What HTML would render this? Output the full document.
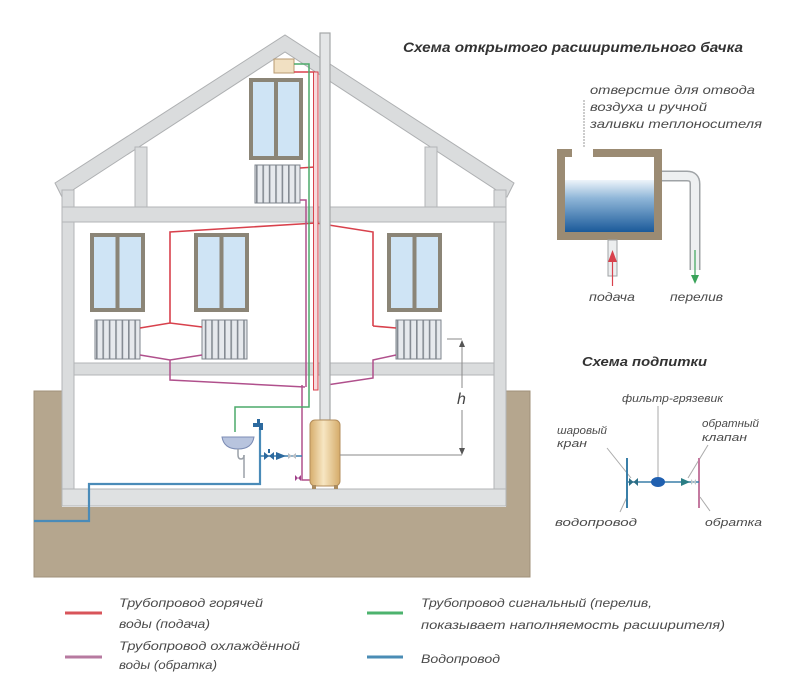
<!DOCTYPE html>
<html><head><meta charset="utf-8"><style>
html,body{margin:0;padding:0;background:#fff;width:800px;height:696px;overflow:hidden}
svg{display:block}
text{font-family:"Liberation Sans","DejaVu Sans",sans-serif;font-style:italic;fill:#4a4a4a}
.t{font-weight:bold;fill:#333}
</style></head><body>
<svg width="800" height="696" viewBox="0 0 800 696" xmlns="http://www.w3.org/2000/svg">
<defs>
<linearGradient id="boil" x1="0" x2="1" y1="0" y2="0"><stop offset="0" stop-color="#d6ad6c"/><stop offset=".45" stop-color="#f7e6c2"/><stop offset="1" stop-color="#d5ab69"/></linearGradient>
<linearGradient id="water" x1="0" x2="0" y1="0" y2="1"><stop offset="0" stop-color="#eef4fa"/><stop offset=".35" stop-color="#8fb6d8"/><stop offset="1" stop-color="#1b5a9a"/></linearGradient>
<pattern id="rad" width="6.4" height="10" patternUnits="userSpaceOnUse"><rect width="6.4" height="10" fill="#e6e9ed"/><rect x="0" width="1.6" height="10" fill="#858b93"/></pattern>
</defs>
<rect width="800" height="696" fill="#fff"/>

<!-- ground -->
<rect x="34" y="391" width="496" height="186" fill="#b5a68e" stroke="#a09079"/>
<rect x="62" y="385" width="444" height="122" fill="#fff"/>

<!-- roof -->
<polygon points="55,183 285,35 514,183 507,197 285,52 62,197" fill="#dadcdd" stroke="#aeb0b2" stroke-width="1"/>
<!-- walls -->
<rect x="62" y="190" width="12" height="316" fill="#dadcdd" stroke="#b3b5b7"/>
<rect x="494" y="190" width="12" height="316" fill="#dadcdd" stroke="#b3b5b7"/>
<!-- posts -->
<rect x="135" y="147" width="12" height="60" fill="#dadcdd" stroke="#b3b5b7"/>
<rect x="425" y="147" width="12" height="60" fill="#dadcdd" stroke="#b3b5b7"/>
<!-- beams -->
<rect x="62" y="207" width="444" height="15" fill="#dadcdd" stroke="#b3b5b7"/>
<rect x="74" y="363" width="420" height="12" fill="#dadcdd" stroke="#b3b5b7"/>
<rect x="62" y="489" width="444" height="17" fill="#dfe1e2" stroke="#b3b5b7"/>

<!-- windows -->
<g fill="#8b8577">
<rect x="249" y="78" width="54" height="82"/>
<rect x="90" y="233" width="55" height="79"/>
<rect x="194" y="233" width="55" height="79"/>
<rect x="387" y="233" width="55" height="79"/>
</g>
<g fill="#cfe4f5">
<rect x="253" y="82" width="21" height="74"/><rect x="278" y="82" width="21" height="74"/>
<rect x="94" y="237" width="21.5" height="71"/><rect x="119.5" y="237" width="21.5" height="71"/>
<rect x="198" y="237" width="21.5" height="71"/><rect x="223.5" y="237" width="21.5" height="71"/>
<rect x="391" y="237" width="21.5" height="71"/><rect x="416.5" y="237" width="21.5" height="71"/>
</g>

<!-- radiators -->
<g fill="url(#rad)" stroke="#7e848c" stroke-width="1">
<rect x="255" y="165" width="45" height="38"/>
<rect x="95" y="320" width="45" height="39"/>
<rect x="202" y="320" width="45" height="39"/>
<rect x="396" y="320" width="45" height="39"/>
</g>

<!-- attic tank -->
<rect x="274" y="59" width="20" height="14" fill="#f1e0c2" stroke="#b89a70"/>

<!-- supply red pipes -->
<g fill="none" stroke="#d8414c" stroke-width="1.6">
<polyline points="170,323 170,232 316,223 373,232 373,326"/>
<polyline points="140,328 170,323 202,327"/>
<polyline points="373,326 396,328"/>
<polyline points="294,72 315,72"/>
<polyline points="300,168 315,167"/>
</g>
<rect x="313.5" y="72" width="4.5" height="318" fill="#f7dadd" stroke="#d8414c" stroke-width="1"/>

<!-- return purple -->
<g fill="none" stroke="#b0508c" stroke-width="1.5">
<polyline points="140,355 170,360 202,355"/>
<polyline points="170,360 170,380 305,387"/>
<polyline points="396,355 373,360 373,378 320,386"/>
<polyline points="300,200 306,200 306,387"/>
<polyline points="302,385 302,480 310,480"/>
</g>

<!-- green signal -->
<polyline points="294,64 309,64 309,407 235,407 235,432" fill="none" stroke="#4caa6a" stroke-width="1.5"/>

<!-- chimney -->
<rect x="320" y="33" width="10" height="387" fill="#e4e6e7" stroke="#a4a6a8" stroke-width="1.2"/>

<!-- boiler -->
<rect x="310" y="420" width="30" height="66" rx="5" fill="url(#boil)" stroke="#b38e5c"/>
<rect x="312" y="485" width="4" height="4" fill="#a98b60"/><rect x="334" y="485" width="4" height="4" fill="#a98b60"/>

<!-- water supply blue -->
<polyline points="260,428 260,484 89,484 89,521 34,521" fill="none" stroke="#4a8bb8" stroke-width="2.2"/>
<path d="M253,427 v-4 h4 v-4 h3 v4 h3 v7 h-4 v-3 h-2 v0 z" fill="#2d6a9f"/>
<line x1="260" y1="456" x2="302" y2="456" stroke="#3b7fae" stroke-width="1.5"/>
<polygon points="264,452 274,460 274,452 264,460" fill="#2d6a9f"/>
<rect x="268" y="449" width="2" height="4" fill="#2d6a9f"/>
<polygon points="276,452 286,456 276,460" fill="#2d6a9f"/>
<polygon points="288,453 296,459 296,453 288,459" fill="#b9bec4"/>
<polygon points="295,475 301,481 301,475 295,481" fill="#a0408a"/>

<!-- sink -->
<path d="M222,437 H254 Q252,449 238,449 Q224,449 222,437 Z" fill="#b8c4de" stroke="#7d8db5"/>
<path d="M238,449 v6 q0,4 3,4 q3,0 3,-4" fill="none" stroke="#9aa0a8" stroke-width="1.5"/>
<line x1="244" y1="455" x2="244" y2="478" stroke="#9aa0a8" stroke-width="1.5"/>

<!-- h dimension -->
<g stroke="#8a8a8a" stroke-width="1" fill="none">
<line x1="447" y1="339" x2="462" y2="339"/>
<line x1="462" y1="345" x2="462" y2="388"/>
<line x1="462" y1="410" x2="462" y2="449"/>
<line x1="340" y1="455" x2="462" y2="455"/>
</g>
<path d="M459,347 L462,340 L465,347 Z" fill="#555"/>
<path d="M459,448 L462,455 L465,448 Z" fill="#555"/>
<text x="457" y="404" font-size="16" style="font-style:italic;fill:#444">h</text>

<!-- expansion tank scheme -->
<text class="t" x="403" y="52" font-size="14" textLength="340" lengthAdjust="spacingAndGlyphs">Схема открытого расширительного бачка</text>
<text x="590" y="94" font-size="12" textLength="165" lengthAdjust="spacingAndGlyphs">отверстие для отвода</text>
<text x="590" y="111" font-size="12" textLength="117" lengthAdjust="spacingAndGlyphs">воздуха и ручной</text>
<text x="590" y="128" font-size="12" textLength="172" lengthAdjust="spacingAndGlyphs">заливки теплоносителя</text>
<line x1="584" y1="100" x2="584" y2="151" stroke="#999" stroke-width="1" stroke-dasharray="2,1"/>
<path d="M581,150 L584,157 L587,150 Z" fill="#777"/>

<path d="M662,176 H687 Q695,176 695,184 V270" fill="none" stroke="#9fa3a6" stroke-width="11"/>
<path d="M662,176 H687 Q695,176 695,184 V270" fill="none" stroke="#eef0f1" stroke-width="8"/>
<rect x="557" y="149" width="105" height="91" fill="#9b8b73"/>
<rect x="565" y="157" width="89" height="75" fill="#fff"/>
<rect x="565" y="180" width="89" height="52" fill="url(#water)"/>
<rect x="572" y="148" width="21" height="10" fill="#fff"/>
<rect x="608" y="240" width="9" height="36" fill="#eceeef" stroke="#9fa3a6"/>
<line x1="612.5" y1="254" x2="612.5" y2="286" stroke="#d8414c" stroke-width="1.2"/>
<path d="M608,262 L612.5,250 L617,262 Z" fill="#d8414c"/>
<line x1="695" y1="250" x2="695" y2="276" stroke="#3aa35a" stroke-width="1.2"/>
<path d="M691,275 L695,284 L699,275 Z" fill="#3aa35a"/>
<text x="589" y="301" font-size="12" textLength="46" lengthAdjust="spacingAndGlyphs">подача</text>
<text x="670" y="301" font-size="12" textLength="53" lengthAdjust="spacingAndGlyphs">перелив</text>

<!-- make-up scheme -->
<text class="t" x="582" y="366" font-size="13" textLength="125" lengthAdjust="spacingAndGlyphs">Схема подпитки</text>
<text x="622" y="402" font-size="11" textLength="101" lengthAdjust="spacingAndGlyphs">фильтр-грязевик</text>
<text x="557" y="434" font-size="11" textLength="50" lengthAdjust="spacingAndGlyphs">шаровый</text>
<text x="557" y="447" font-size="11" textLength="30" lengthAdjust="spacingAndGlyphs">кран</text>
<text x="702" y="427" font-size="11" textLength="57" lengthAdjust="spacingAndGlyphs">обратный</text>
<text x="702" y="441" font-size="11" textLength="45" lengthAdjust="spacingAndGlyphs">клапан</text>
<text x="555" y="526" font-size="11" textLength="82" lengthAdjust="spacingAndGlyphs">водопровод</text>
<text x="705" y="526" font-size="11" textLength="57" lengthAdjust="spacingAndGlyphs">обратка</text>
<g stroke="#aaa" stroke-width="1" fill="none">
<line x1="607" y1="448" x2="631" y2="478"/>
<line x1="658" y1="406" x2="658" y2="477"/>
<line x1="708" y1="445" x2="688" y2="478"/>
<line x1="620" y1="512" x2="627" y2="497"/>
<line x1="710" y1="511" x2="700" y2="497"/>
</g>
<line x1="627" y1="458" x2="627" y2="508" stroke="#3a7fa8" stroke-width="2"/>
<line x1="699" y1="458" x2="699" y2="508" stroke="#c47aa0" stroke-width="2"/>
<line x1="627" y1="482" x2="699" y2="482" stroke="#3a7fa8" stroke-width="1.5"/>
<polygon points="629,478 638,486 638,478 629,486" fill="#2b6e85"/>
<ellipse cx="658" cy="482" rx="7" ry="5" fill="#2060b0"/>
<rect x="652" y="479" width="12" height="4" fill="#2060b0"/>
<polygon points="681,478 690,482 681,486" fill="#2b7e85"/>
<polygon points="691,479 696,485 696,479 691,485" fill="#b9c4c8"/>

<!-- legend -->
<line x1="65" y1="613" x2="102" y2="613" stroke="#d8545a" stroke-width="3"/>
<line x1="65" y1="657" x2="102" y2="657" stroke="#b77aa0" stroke-width="3"/>
<line x1="367" y1="613" x2="403" y2="613" stroke="#4db36e" stroke-width="3"/>
<line x1="367" y1="657" x2="403" y2="657" stroke="#4a8cb5" stroke-width="3"/>
<g font-size="12">
<text x="119" y="607" textLength="144" lengthAdjust="spacingAndGlyphs">Трубопровод горячей</text>
<text x="119" y="628" textLength="91" lengthAdjust="spacingAndGlyphs">воды (подача)</text>
<text x="119" y="650" textLength="181" lengthAdjust="spacingAndGlyphs">Трубопровод охлаждённой</text>
<text x="119" y="669" textLength="98" lengthAdjust="spacingAndGlyphs">воды (обратка)</text>
<text x="421" y="607" textLength="231" lengthAdjust="spacingAndGlyphs">Трубопровод сигнальный (перелив,</text>
<text x="421" y="629" textLength="304" lengthAdjust="spacingAndGlyphs">показывает наполняемость расширителя)</text>
<text x="421" y="663" textLength="79" lengthAdjust="spacingAndGlyphs">Водопровод</text>
</g>
</svg>
</body></html>
